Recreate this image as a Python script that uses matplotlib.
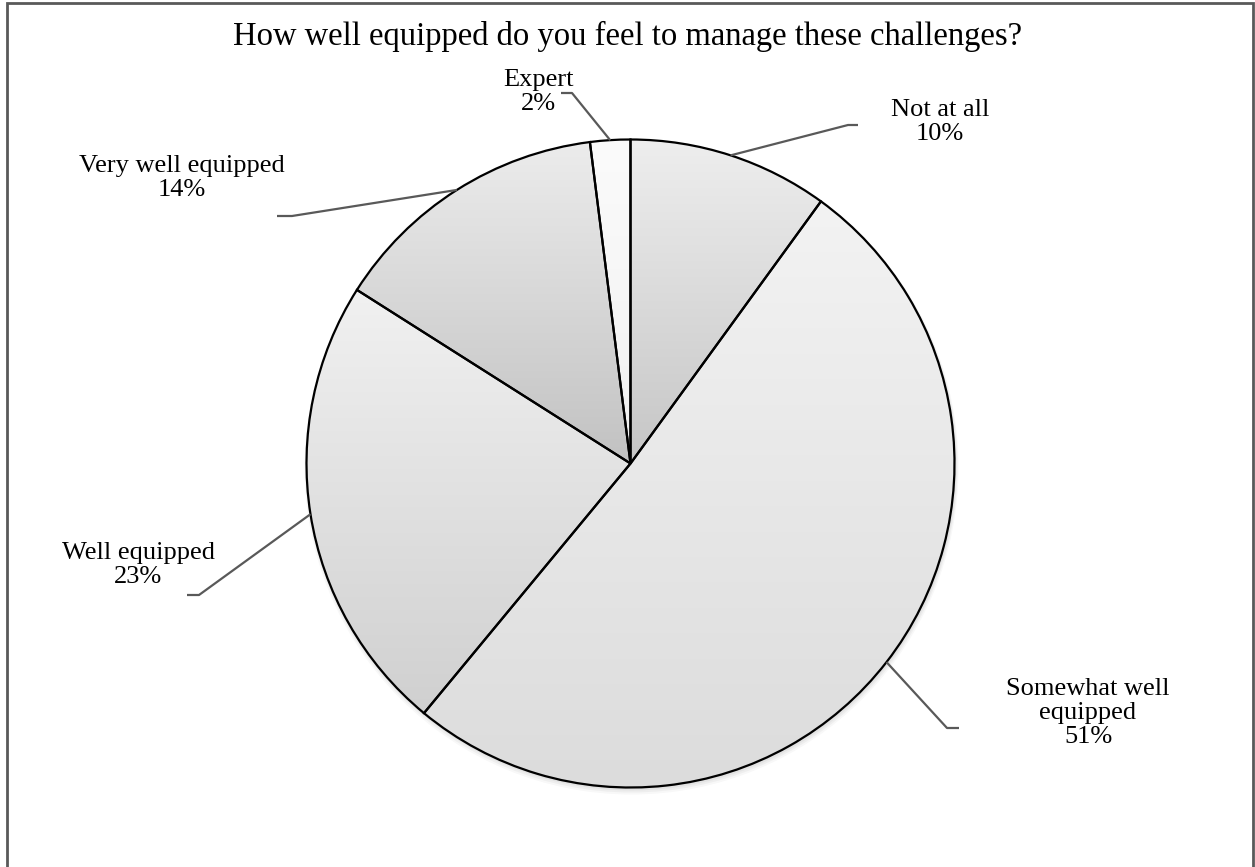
import matplotlib.pyplot as plt
import numpy as np
from matplotlib.colors import LinearSegmentedColormap
from matplotlib.patches import Rectangle, Circle

plt.rcParams['font.family'] = ['Liberation Serif', 'DejaVu Serif']

# survey answers, clockwise from 12 o'clock
labels = ['Not at all', 'Somewhat well\nequipped', 'Well equipped',
          'Very well equipped', 'Expert']
values = [10, 51, 23, 14, 2]
pct_text = ['10%', '51%', '23%', '14%', '2%']

# gradient colours per slice (top, bottom)
shades = [('#eeeeee', '#c6c6c6'),
          ('#f3f3f3', '#dcdcdc'),
          ('#f1f1f1', '#d0d0d0'),
          ('#ececec', '#c2c2c2'),
          ('#fbfbfb', '#f1f1f1')]

W, H = 1255, 867
fig = plt.figure(figsize=(W / 100, H / 100), dpi=100)
ax = fig.add_axes([0, 0, 1, 1])
ax.set_xlim(0, W)
ax.set_ylim(0, H)
ax.axis('off')

cx, cy, r = 630.5, H - 463.5, 324

# soft shadow under the pie
for k, a in enumerate([0.10, 0.08, 0.06]):
    ax.add_patch(Circle((cx + 1, cy - 2 - k), r + 1 + k, color='#888888',
                        alpha=a, lw=0, zorder=0))

wedges, _ = ax.pie(values, startangle=90, counterclock=False,
                   center=(cx, cy), radius=r,
                   wedgeprops=dict(facecolor='none', edgecolor='black',
                                   linewidth=1.6, zorder=3))

grad = np.linspace(0, 1, 256).reshape(-1, 1)
for w, (c_top, c_bot) in zip(wedges, shades):
    ext = w.get_path().get_extents()
    cmap = LinearSegmentedColormap.from_list('g', [c_bot, c_top])
    im = ax.imshow(grad, cmap=cmap, origin='lower', aspect='auto',
                   extent=[ext.x0, ext.x1, ext.y0, ext.y1], zorder=2,
                   interpolation='bilinear')
    im.set_clip_path(w)

# label positions and leader elbows (pixel layout)
label_xy = [(940, 122), (1088, 713), (138, 565), (182, 178), (538, 92)]
elbows = [((858, 125), (848, 125)),
          ((959, 728), (947, 728)),
          ((187, 595), (199, 595)),
          ((277, 216), (292, 216)),
          ((561, 93), (572, 93))]

for w, lab, pct, (lx, ly), (e0, e1) in zip(wedges, labels, pct_text,
                                            label_xy, elbows):
    mid = np.deg2rad((w.theta1 + w.theta2) / 2)
    px, py = cx + r * np.cos(mid), cy + r * np.sin(mid)
    ax.plot([e0[0], e1[0], px], [H - e0[1], H - e1[1], py],
            color='#595959', lw=1.6, zorder=4, solid_capstyle='butt')
    ax.text(lx, H - ly, lab + '\n' + pct, ha='center', va='center',
            fontsize=19, linespacing=1.12, zorder=5)

ax.text(628, H - 36, 'How well equipped do you feel to manage these challenges?',
        ha='center', va='center', fontsize=23.5)

# chart border (bottom edge is cut off in the original)
ax.add_patch(Rectangle((7, -10), 1246, H - 3 + 10, fill=False,
                       edgecolor='#595959', lw=2, zorder=6))

ax.set_xlim(0, W)
ax.set_ylim(0, H)
fig.savefig('out.png', dpi=100)
